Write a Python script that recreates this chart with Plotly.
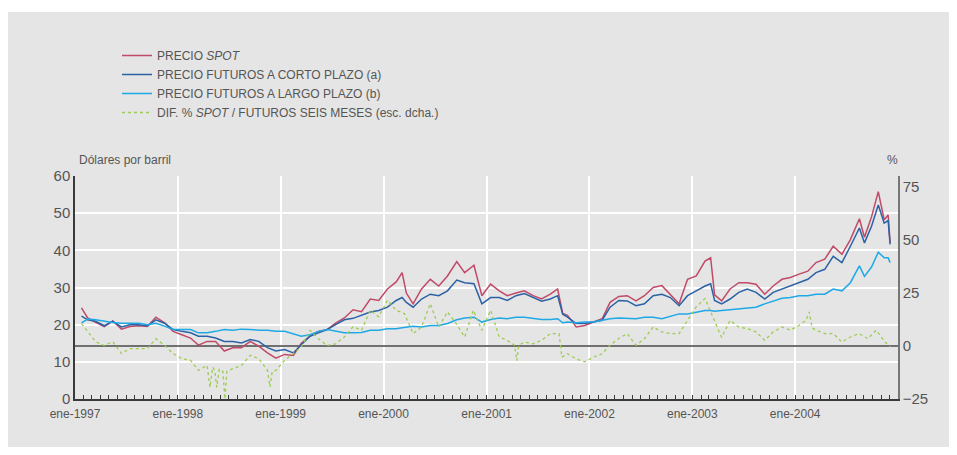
import plotly.graph_objects as go

# ---------------- DATA ----------------
price_dates = [
    "1997-01-24", "1997-02-15", "1997-03-15", "1997-04-15", "1997-05-15", "1997-06-15",
    "1997-07-15", "1997-08-15", "1997-09-15", "1997-10-15", "1997-11-15", "1997-12-15",
    "1998-01-15", "1998-02-15", "1998-03-15", "1998-04-15", "1998-05-15", "1998-06-15",
    "1998-07-15", "1998-08-15", "1998-09-15", "1998-10-15", "1998-11-15", "1998-12-15",
    "1999-01-15", "1999-02-15", "1999-03-15", "1999-04-15", "1999-05-15", "1999-06-15",
    "1999-07-15", "1999-08-15", "1999-09-15", "1999-10-15", "1999-11-15", "1999-12-15",
    "2000-01-15", "2000-02-15", "2000-03-07", "2000-03-22", "2000-04-15", "2000-05-15",
    "2000-06-15", "2000-07-15", "2000-08-15", "2000-09-17", "2000-10-15", "2000-11-17",
    "2000-12-15", "2001-01-15", "2001-02-15", "2001-03-15", "2001-04-15", "2001-05-15",
    "2001-06-15", "2001-07-15", "2001-08-15", "2001-09-10", "2001-09-28", "2001-10-15",
    "2001-11-15", "2001-12-15", "2002-01-15", "2002-02-15", "2002-03-15", "2002-04-15",
    "2002-05-15", "2002-06-15", "2002-07-15", "2002-08-15", "2002-09-15", "2002-10-15",
    "2002-11-15", "2002-12-15", "2003-01-15", "2003-02-15", "2003-03-07", "2003-03-21",
    "2003-04-15", "2003-05-15", "2003-06-15", "2003-07-15", "2003-08-15", "2003-09-15",
    "2003-10-15", "2003-11-15", "2003-12-15", "2004-01-15", "2004-02-15", "2004-03-15",
    "2004-04-15", "2004-05-15", "2004-06-15", "2004-07-15", "2004-08-16", "2004-09-03",
    "2004-09-28", "2004-10-22", "2004-11-12", "2004-11-26", "2004-12-03",
]

precio_spot = [
    24.5, 21.8, 20.6, 19.5, 21.0, 18.8,
    19.5, 19.7, 19.5, 22.0, 20.5, 18.2,
    17.3, 16.4, 14.5, 15.5, 15.5, 12.9,
    13.8, 13.8, 15.5, 14.2, 12.4, 11.0,
    12.0, 11.7, 15.0, 16.9, 18.2, 18.7,
    20.4, 21.8, 24.0, 23.5, 26.9, 26.5,
    29.6, 31.5, 34.0, 28.5, 25.6, 29.6,
    32.2, 30.4, 33.1, 37.0, 34.0, 36.0,
    27.8, 30.9, 29.1, 27.8, 28.5, 29.1,
    27.8, 26.9, 28.2, 29.6, 23.0, 22.5,
    19.4, 19.8, 20.7, 21.6, 26.0, 27.6,
    27.8, 26.4, 27.8, 30.0, 30.5, 28.2,
    25.6, 32.2, 33.1, 37.1, 38.0, 28.0,
    26.4, 29.6, 31.3, 31.3, 30.9, 28.2,
    30.4, 32.2, 32.7, 33.6, 34.4, 36.7,
    37.6, 41.1, 38.9, 42.9, 48.5, 43.5,
    49.0, 55.8, 48.2, 49.5, 42.0,
]

futuros_corto = [
    22.3, 21.3, 20.9, 19.7, 20.9, 19.4,
    20.0, 20.0, 19.7, 21.3, 20.4, 18.7,
    18.2, 17.8, 16.9, 16.9, 16.4, 15.5,
    15.5, 15.1, 16.0, 15.5, 13.8, 12.9,
    13.3, 12.4, 14.6, 16.9, 17.8, 18.7,
    20.0, 21.3, 21.7, 22.5, 23.4, 23.8,
    24.7, 26.5, 27.3, 26.0, 24.7, 26.9,
    28.2, 27.8, 29.1, 32.0, 31.3, 31.0,
    25.6, 27.3, 27.3, 26.5, 27.8, 28.4,
    27.3, 26.3, 26.9, 27.8, 22.8, 22.0,
    20.3, 20.3, 20.7, 21.2, 24.7, 26.5,
    26.4, 25.1, 25.6, 27.8, 28.2, 27.3,
    25.1, 27.8, 29.1, 30.4, 31.0, 26.5,
    25.6, 26.9, 28.7, 29.6, 28.7, 26.9,
    28.7, 29.6, 30.4, 31.3, 32.2, 34.0,
    34.9, 38.4, 36.7, 41.1, 46.0, 42.0,
    46.5, 52.2, 47.3, 48.0, 41.6,
]

futuros_largo = [
    20.5, 21.5, 21.3, 20.9, 20.6, 20.4,
    20.4, 20.4, 20.0, 20.4, 19.6, 18.7,
    18.7, 18.7, 17.8, 17.8, 18.2, 18.7,
    18.5, 18.8, 18.7, 18.5, 18.5, 18.2,
    18.2, 17.6, 16.9, 17.3, 18.2, 18.7,
    18.2, 17.8, 17.8, 17.9, 18.5, 18.5,
    18.9, 18.9, 19.2, 19.4, 19.6, 19.4,
    19.8, 19.8, 20.3, 21.3, 21.8, 22.0,
    20.7, 21.4, 21.8, 21.6, 22.0, 22.0,
    21.6, 21.4, 21.4, 21.6, 20.5, 20.7,
    20.5, 20.7, 20.7, 21.2, 21.6, 21.8,
    21.7, 21.6, 22.0, 22.0, 21.6, 22.3,
    22.9, 22.9, 23.3, 23.8, 23.8, 23.6,
    23.8, 24.0, 24.2, 24.4, 24.7, 25.6,
    26.4, 27.1, 27.3, 27.8, 27.8, 28.2,
    28.2, 29.6, 29.1, 31.3, 35.8, 33.0,
    35.5, 39.5, 38.0, 38.0, 36.7,
]

dif_dates = [
    "1997-01-24", "1997-02-15", "1997-03-15", "1997-04-15", "1997-05-15", "1997-06-15",
    "1997-07-15", "1997-08-15", "1997-09-15", "1997-10-15", "1997-11-15", "1997-12-15",
    "1998-01-15", "1998-02-15", "1998-03-15", "1998-04-15", "1998-04-25", "1998-05-05",
    "1998-05-12", "1998-05-19", "1998-05-28", "1998-06-10", "1998-06-17", "1998-06-24",
    "1998-07-15", "1998-08-15", "1998-09-15", "1998-10-15", "1998-11-15", "1998-11-24",
    "1998-12-02", "1998-12-15", "1999-01-15", "1999-02-15", "1999-03-15", "1999-04-15",
    "1999-05-15", "1999-06-15", "1999-07-15", "1999-08-15", "1999-09-15", "1999-10-15",
    "1999-11-15", "1999-12-15", "2000-01-15", "2000-02-15", "2000-03-15", "2000-04-15",
    "2000-05-15", "2000-06-15", "2000-07-15", "2000-08-15", "2000-09-15", "2000-10-15",
    "2000-11-15", "2000-12-15", "2001-01-15", "2001-02-15", "2001-03-15", "2001-04-10",
    "2001-04-18", "2001-04-25", "2001-05-15", "2001-06-15", "2001-07-15", "2001-08-15",
    "2001-09-15", "2001-09-25", "2001-10-15", "2001-11-15", "2001-12-15", "2002-01-15",
    "2002-02-15", "2002-03-15", "2002-04-15", "2002-05-15", "2002-06-15", "2002-07-15",
    "2002-08-15", "2002-09-15", "2002-10-15", "2002-11-15", "2002-12-15", "2003-01-15",
    "2003-02-15", "2003-03-15", "2003-04-15", "2003-05-15", "2003-06-15", "2003-07-15",
    "2003-08-15", "2003-09-15", "2003-10-15", "2003-11-15", "2003-12-15", "2004-01-15",
    "2004-02-08", "2004-02-20", "2004-03-01", "2004-03-15", "2004-04-15", "2004-05-15",
    "2004-06-15", "2004-07-15", "2004-08-15", "2004-09-15", "2004-10-15", "2004-11-15",
    "2004-12-03",
]

dif_spot_futuros = [
    10.5, 6.5, 2.0, 0.2, 2.0, -3.6,
    -1.3, -1.3, -1.3, 3.4, 0.2, -3.6,
    -6.0, -6.8, -11.5, -9.2, -19.5, -10.0,
    -11.5, -19.5, -11.0, -12.0, -25.0, -12.0,
    -10.7, -9.2, -4.4, -6.0, -11.5, -19.3,
    -12.0, -11.5, -6.8, -3.6, -0.5, 7.3,
    3.4, 0.2, 1.0, 4.2, 9.0, 7.4,
    16.8, 13.7, 21.5, 16.8, 15.2, 5.8,
    8.9, 19.9, 8.9, 16.0, 10.5, 4.2,
    16.8, 7.4, 16.8, 4.2, 2.6, 0.3,
    -7.0, 0.3, 1.8, 1.0, 2.6, 5.8,
    5.8, -5.3, -3.7, -6.1, -7.5, -5.3,
    -3.7, 0.3, 3.5, 5.8, 0.3, 3.4,
    8.9, 6.6, 5.8, 5.8, 12.0, 18.4,
    22.3, 13.7, 4.0, 12.0, 8.9, 8.1,
    6.6, 2.6, 6.6, 8.9, 7.4, 9.7,
    12.0, 16.0, 8.5, 7.4, 5.8, 5.8,
    1.8, 4.2, 5.8, 3.4, 7.4, 1.8,
    -0.5,
]

year_ticks = ["1997-01-01", "1998-01-01", "1999-01-01", "2000-01-01",
              "2001-01-01", "2002-01-01", "2003-01-01", "2004-01-01"]
year_labels = ["ene-1997", "ene-1998", "ene-1999", "ene-2000",
               "ene-2001", "ene-2002", "ene-2003", "ene-2004"]
left_ticks = [0, 10, 20, 30, 40, 50, 60]
right_ticks = [-25, 0, 25, 50, 75]

series_names = [
    "PRECIO <i>SPOT</i>",
    "PRECIO FUTUROS A CORTO PLAZO (a)",
    "PRECIO FUTUROS A LARGO PLAZO (b)",
    "DIF. % <i>SPOT</i> / FUTUROS SEIS MESES (esc. dcha.)",
]

# ---------------- FIGURE ----------------
FONT = "Liberation Sans, Arial, Helvetica, sans-serif"
TXT = "#555555"
BG = "#e5e5e5"
AXIS = "#3a3a3a"

fig = go.Figure()
fig.add_trace(go.Scatter(x=price_dates, y=precio_spot, name=series_names[0], mode="lines",
                         line=dict(color="#c04a68", width=1.5)))
fig.add_trace(go.Scatter(x=price_dates, y=futuros_corto, name=series_names[1], mode="lines",
                         line=dict(color="#2b62a6", width=1.5)))
fig.add_trace(go.Scatter(x=price_dates, y=futuros_largo, name=series_names[2], mode="lines",
                         line=dict(color="#1ea9e6", width=1.5)))
fig.add_trace(go.Scatter(x=dif_dates, y=dif_spot_futuros, name=series_names[3], mode="lines",
                         yaxis="y2", line=dict(color="#9ccc50", width=1.3, dash="dot")))

OFF = 8  # page (body) margin in the browser
W, H = 941, 439
PL, PR, PT, PB = 75, 898, 176, 399  # plot area edges in page pixels
L = PL - OFF
R = W - (PR - OFF)
T = PT - OFF
B = H - (PB - OFF)
pw, ph = PR - PL, PB - PT


def px_x(p):
    return (p - PL) / pw


def px_y(q):
    return (PB - q) / ph


fig.update_layout(
    width=W, height=H,
    margin=dict(l=L, r=R, t=T, b=B),
    paper_bgcolor="white",
    plot_bgcolor=BG,
    font=dict(family=FONT, color=TXT, size=12),
    showlegend=True,
    legend=dict(x=px_x(117), y=px_y(41), xanchor="left", yanchor="top",
                bgcolor="rgba(0,0,0,0)", font=dict(size=12, color=TXT, family=FONT),
                tracegroupgap=0),
    xaxis=dict(type="date", range=["1997-01-01", "2004-12-31"],
               tickvals=year_ticks, ticktext=year_labels,
               tickfont=dict(size=12, color=TXT), ticklabelstandoff=3,
               showgrid=True, gridcolor="white", gridwidth=2,
               showline=True, linecolor=AXIS, linewidth=1.5,
               ticks="inside", ticklen=4, tickcolor=AXIS, tickwidth=1,
               minor=dict(ticks="inside", ticklen=4, tickcolor=AXIS, tickwidth=1,
                          dtick="M1", tick0="1997-01-01", showgrid=False),
               zeroline=False),
    yaxis=dict(range=[0, 60], tickvals=left_ticks,
               tickfont=dict(size=15, color=TXT),
               showgrid=True, gridcolor="white", gridwidth=2,
               showline=True, linecolor=AXIS, linewidth=1.5,
               ticks="", zeroline=False),
    yaxis2=dict(range=[-25, 80], tickvals=right_ticks, overlaying="y", side="right",
                tickfont=dict(size=15, color=TXT),
                showgrid=False, showline=True, linecolor="#777777", linewidth=1.5,
                ticks="", zeroline=True, zerolinecolor="#707070", zerolinewidth=2),
    shapes=[dict(type="rect", xref="paper", yref="paper", layer="below",
                 x0=px_x(OFF), x1=px_x(950), y0=px_y(452), y1=px_y(12),
                 fillcolor=BG, line=dict(width=0))],
    annotations=[
        dict(text="Dólares por barril", xref="paper", yref="paper", x=px_x(77), y=px_y(160),
             xanchor="left", yanchor="middle", showarrow=False, font=dict(size=12, color=TXT)),
        dict(text="%", xref="paper", yref="paper", x=px_x(900), y=px_y(160),
             xanchor="right", yanchor="middle", showarrow=False, font=dict(size=12, color=TXT)),
    ],
)

fig.write_html("out.html")
